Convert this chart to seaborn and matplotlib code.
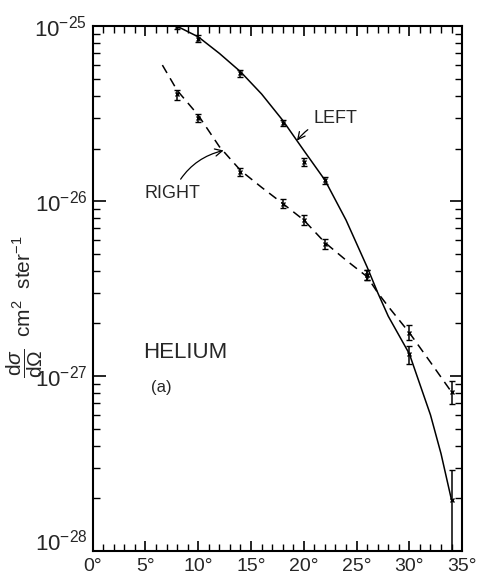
import numpy as np
import pandas as pd
import matplotlib
matplotlib.use("Agg")
import matplotlib.pyplot as plt
import matplotlib.transforms as mtransforms
import seaborn as sns
from matplotlib.ticker import FixedLocator, LogLocator, NullFormatter

# measured points (angle in degrees, cross section cm^2/ster)
left_angle = [8, 10, 14, 18, 20, 22, 26, 30, 34]
left_val = [1.0e-25, 8.5e-26, 5.4e-26, 2.8e-26, 1.67e-26, 1.32e-26, 3.8e-27, 1.34e-27, 1.95e-28]
left_lo = [0.96e-25, 8.1e-26, 5.15e-26, 2.68e-26, 1.58e-26, 1.26e-26, 3.55e-27, 1.17e-27, 1.0e-28]
left_hi = [1.04e-25, 8.9e-26, 5.65e-26, 2.92e-26, 1.76e-26, 1.38e-26, 4.05e-27, 1.49e-27, 2.9e-28]

right_angle = [8, 10, 14, 18, 20, 22, 26, 30, 34]
right_val = [4.08e-26, 3.0e-26, 1.47e-26, 9.7e-27, 7.8e-27, 5.7e-27, 3.8e-27, 1.77e-27, 8.1e-28]
right_lo = [3.8e-26, 2.85e-26, 1.39e-26, 9.1e-27, 7.3e-27, 5.35e-27, 3.55e-27, 1.6e-27, 6.9e-28]
right_hi = [4.35e-26, 3.15e-26, 1.55e-26, 1.03e-26, 8.3e-27, 6.05e-27, 4.05e-27, 1.95e-27, 9.4e-28]

# fitted curves
left_curve_angle = [8, 10, 12, 14, 16, 18, 20, 22, 24, 26, 27, 28, 30, 32, 33, 34]
left_curve_val = [1.0e-25, 8.7e-26, 7.0e-26, 5.5e-26, 4.1e-26, 2.9e-26, 1.95e-26, 1.32e-26, 7.8e-27,
                  4.2e-27, 3.0e-27, 2.2e-27, 1.34e-27, 6.0e-28, 3.6e-28, 1.95e-28]
right_curve_angle = [6.6, 8, 10, 12, 14, 16, 18, 20, 22, 24, 26, 27, 28, 30, 32, 34]
right_curve_val = [6.0e-26, 4.3e-26, 3.1e-26, 2.05e-26, 1.5e-26, 1.2e-26, 9.7e-27, 7.8e-27, 5.8e-27,
                   4.6e-27, 3.7e-27, 3.0e-27, 2.5e-27, 1.77e-27, 1.2e-27, 8.1e-28]

xtick_vals = [0, 5, 10, 15, 20, 25, 30, 35]
xtick_labels = ["0°", "5°", "10°", "15°", "20°", "25°", "30°", "35°"]
ytick_vals = [1e-28, 1e-27, 1e-26, 1e-25]
ytick_labels = [r"$10^{-28}$", r"$10^{-27}$", r"$10^{-26}$", r"$10^{-25}$"]

sns.set_style("ticks")
plt.rcParams["font.family"] = ["Liberation Sans", "DejaVu Sans"]
plt.rcParams["mathtext.fontset"] = "custom"
plt.rcParams["mathtext.rm"] = "Liberation Sans"
plt.rcParams["mathtext.it"] = "Liberation Sans:italic"

fig = plt.figure(figsize=(4.88, 5.84), dpi=100)
ax = fig.add_axes([0.19, 0.0565, 0.757, 0.8985])

lc = pd.DataFrame({"angle": left_curve_angle, "val": left_curve_val})
rc = pd.DataFrame({"angle": right_curve_angle, "val": right_curve_val})
sns.lineplot(data=lc, x="angle", y="val", ax=ax, color="black", lw=1.1)
sns.lineplot(data=rc, x="angle", y="val", ax=ax, color="black", lw=1.1, linestyle=(0, (6, 4)))

for a, v, lo, hi in [(left_angle, left_val, left_lo, left_hi),
                     (right_angle, right_val, right_lo, right_hi)]:
    v = np.array(v)
    err = np.vstack([v - np.array(lo), np.array(hi) - v])
    ax.errorbar(a, v, yerr=err, fmt="x", color="black", ms=3.5, mew=1.0,
                elinewidth=1.1, capsize=2.5, capthick=1.0)

ax.set_yscale("log")
ax.set_xlim(0, 35)
ax.set_ylim(1e-28, 1e-25)
ax.xaxis.set_major_locator(FixedLocator(xtick_vals))
ax.set_xticklabels(xtick_labels, fontsize=14)
ax.xaxis.set_minor_locator(FixedLocator(np.arange(0, 35, 1)))
ax.yaxis.set_major_locator(FixedLocator(ytick_vals))
ax.set_yticklabels(ytick_labels, fontsize=16)
ax.yaxis.set_minor_locator(LogLocator(base=10, subs=np.arange(2, 10)))
ax.yaxis.set_minor_formatter(NullFormatter())
ax.tick_params(which="both", direction="in", top=True, right=True, color="black")
ax.tick_params(which="major", length=9, width=1.2)
ax.tick_params(which="minor", length=5, width=1.0)
ax.tick_params(axis="x", which="major", length=7, pad=5)
ax.tick_params(axis="y", which="major", pad=4)
for s in ax.spines.values():
    s.set_linewidth(1.5)
    s.set_color("black")

# lift the lowest y label a little so it clears the x labels
lbl = ax.get_yticklabels()[0]
lbl.set_transform(lbl.get_transform() + mtransforms.ScaledTranslation(0, 8 / 72, fig.dpi_scale_trans))

ax.set_xlabel("")
ax.set_ylabel(r"$\dfrac{\mathrm{d}\sigma}{\mathrm{d}\Omega}$  cm$^2$  ster$^{-1}$", fontsize=15)
ax.yaxis.set_label_coords(-0.128, 0.465)

ax.annotate("LEFT", xy=(19.35, 2.22e-26), xytext=(20.9, 2.98e-26), fontsize=13,
            va="center", ha="left",
            arrowprops=dict(arrowstyle="->", color="black", lw=0.9,
                            connectionstyle="arc3,rad=0.2", shrinkA=2, shrinkB=0))
ax.annotate("RIGHT", xy=(12.4, 1.95e-26), xytext=(7.6, 1.11e-26), fontsize=13,
            va="center", ha="center",
            arrowprops=dict(arrowstyle="->", color="black", lw=0.9,
                            connectionstyle="arc3,rad=-0.25", shrinkA=2, shrinkB=0))
ax.text(4.75, 1.37e-27, "HELIUM", fontsize=16, va="center")
ax.text(5.55, 8.65e-28, "(a)", fontsize=12, va="center")

fig.savefig("out.png", dpi=100)
